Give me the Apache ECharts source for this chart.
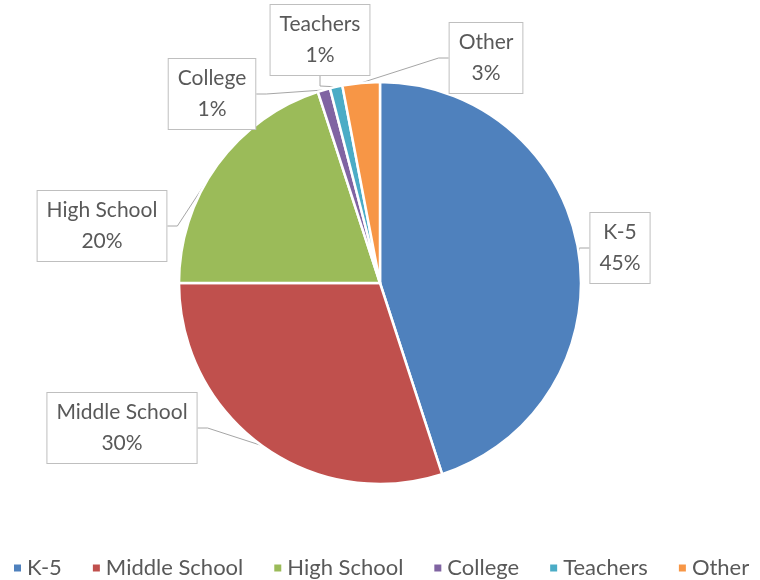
<!DOCTYPE html>
<html>
<head>
<meta charset="utf-8">
<script src="https://cdn.jsdelivr.net/npm/echarts@6/dist/echarts.min.js"></script>
<style>
  html, body { margin: 0; padding: 0; background: #ffffff; }
  #chart { width: 760px; height: 580px; }
</style>
</head>
<body>
<div id="chart"></div>
<script>
// Audience groups and their share of the total (percent)
const categories = ['K-5', 'Middle School', 'High School', 'College', 'Teachers', 'Other'];
const shares = [45, 30, 20, 1, 1, 3];

// Office-style slice palette
const palette = ['#4f81bd', '#c0504d', '#9bbb59', '#8064a2', '#4bacc6', '#f79646'];

// Where each callout box sits (box centre, in px)
const calloutSpots = [
  [620, 248],
  [122, 428],
  [102, 226],
  [212, 94],
  [320, 40],
  [486, 58]
];

const FONT = 'Lato, "Open Sans", sans-serif';

const chart = echarts.init(document.getElementById('chart'), null, { renderer: 'canvas' });

chart.setOption({
  backgroundColor: '#ffffff',
  color: palette,
  animation: false,
  legend: {
    data: categories,
    left: 12,
    width: 748,
    top: 557,
    padding: 0,
    icon: 'rect',
    itemWidth: 9,
    itemHeight: 9,
    itemGap: 29,
    textStyle: { fontFamily: FONT, fontSize: 22, color: '#595959' }
  },
  series: [{
    type: 'pie',
    center: [380, 283],
    radius: 201,
    startAngle: 90,
    clockwise: true,
    avoidLabelOverlap: false,
    minShowLabelAngle: 0,
    itemStyle: { borderColor: '#ffffff', borderWidth: 2.5 },
    label: {
      show: true,
      position: 'outside',
      formatter: p => p.name + '\n' + p.value + '%',
      fontFamily: FONT,
      fontSize: 21,
      lineHeight: 31,
      color: '#595959',
      align: 'center',
      backgroundColor: '#ffffff',
      borderColor: '#bfbfbf',
      borderWidth: 1,
      padding: [4, 9]
    },
    labelLine: {
      show: true,
      smooth: false,
      length: 10,
      length2: 10,
      lineStyle: { color: '#a6a6a6', width: 1 }
    },
    labelLayout: function (params) {
      const spot = calloutSpots[params.dataIndex];
      return { x: spot[0], y: spot[1], align: 'center', verticalAlign: 'middle' };
    },
    emphasis: { disabled: true },
    data: categories.map((name, i) => ({ name: name, value: shares[i] }))
  }]
});
</script>
</body>
</html>
